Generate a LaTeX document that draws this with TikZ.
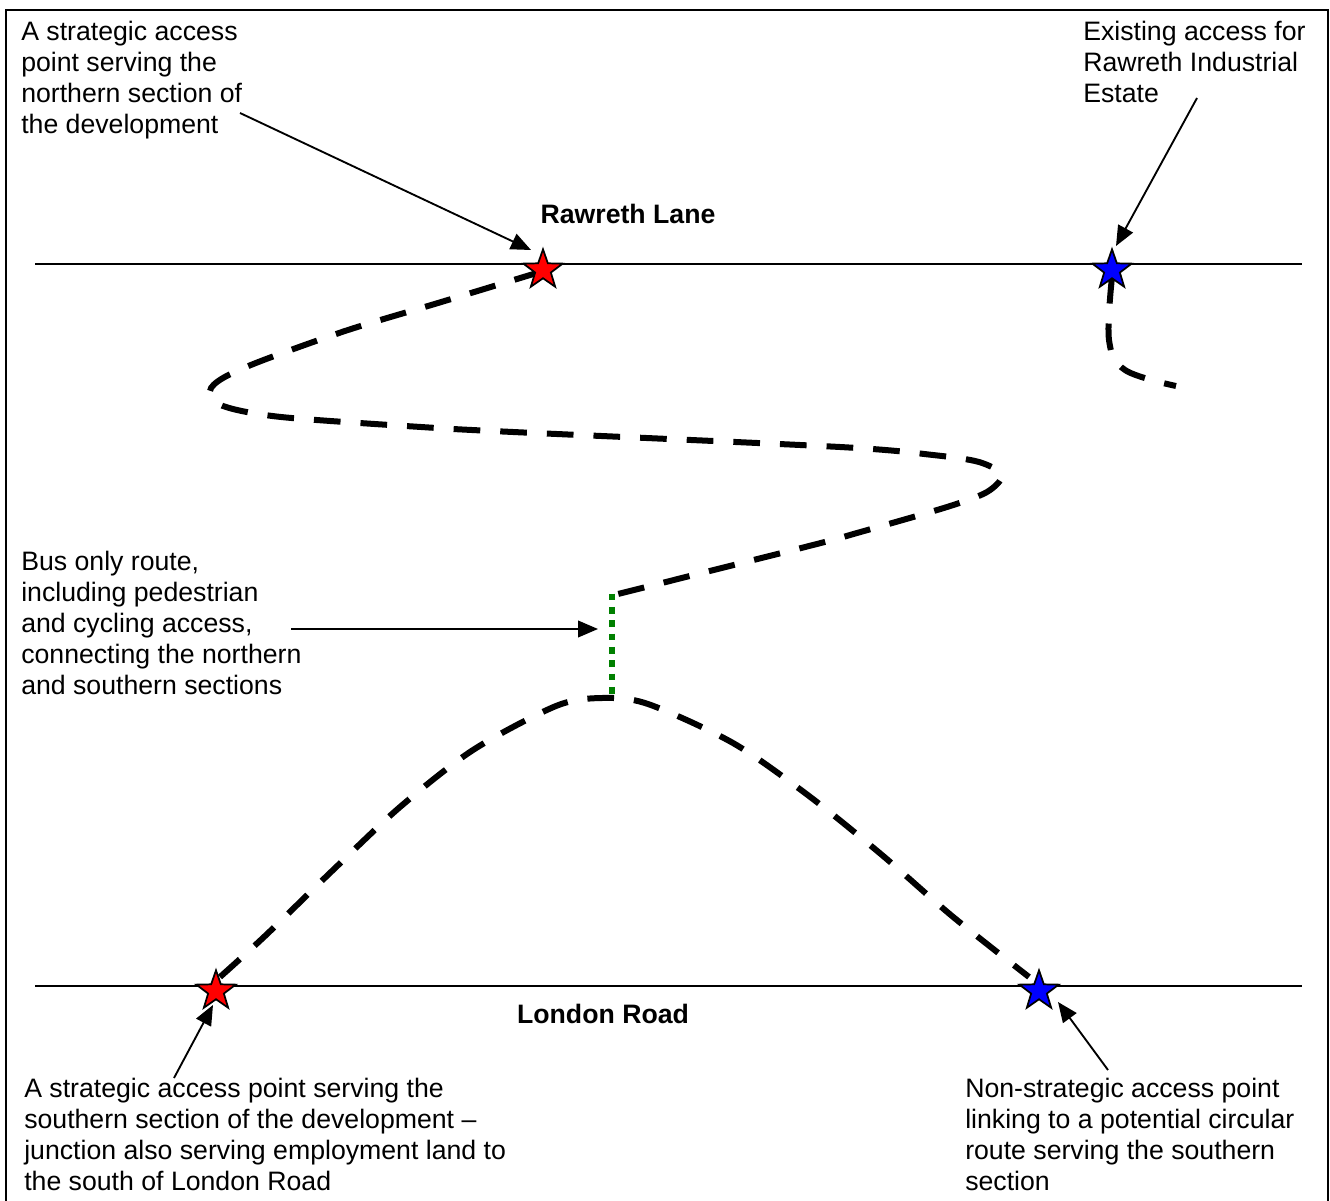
\documentclass[tikz,border=0pt]{standalone}
\usepackage{fontspec}
\setmainfont{Liberation Sans}
\usetikzlibrary{shapes.geometric,arrows.meta}
\definecolor{busgreen}{RGB}{0,128,0}
\tikzset{
  x=0.75pt,y=-0.75pt,
  label/.style={inner sep=0pt,anchor=north west,align=left,font=\fontsize{20}{23.3}\selectfont},
  head/.style={inner sep=0pt,font=\bfseries\fontsize{20}{23.3}\selectfont},
  road/.style={line width=2pt},
  route/.style={line width=4.5pt,dash pattern=on 20pt off 15pt},
  bus/.style={line width=5pt,busgreen,dash pattern=on 5pt off 5pt},
  pointer/.style={line width=1.4pt,-{Triangle[length=15pt,width=12.5pt]}},
  mark star/.style={star,star points=5,star point ratio=2.5,minimum size=31pt,inner sep=0pt,draw=black,line width=1.3pt,fill=#1},
}
\begin{document}
\begin{tikzpicture}
\useasboundingbox (0,0) rectangle (1330,1201);
\coordinate (boxBL) at (6,1202); \coordinate (boxTL) at (6,10);
\coordinate (boxTR) at (1328,10); \coordinate (boxBR) at (1328,1202);
\draw[line width=1.7pt] (boxBL) -- (boxTL) -- (boxTR) -- (boxBR);
\coordinate (rawW) at (35,264); \coordinate (rawE) at (1302,264);
\coordinate (lonW) at (35,986); \coordinate (lonE) at (1302,986);
\draw[road] (rawW) -- (rawE);
\draw[road] (lonW) -- (lonE);
\node[head] (rawreth) at (628,214) {Rawreth Lane};
\node[head] (london) at (603,1014) {London Road};
\coordinate (busN) at (612,593.5);
\coordinate (busS) at (612,697);
\draw[route] plot[smooth,tension=0.5] coordinates {(540,272) (438,303) (348,330) (261,361) (223,378) (210,391) (223,406) (281,417) (421,427) (513,432) (840,447) (933,455) (979,462) (1002,475) (987,492) (947,507) (857,533) (813,545) (614,595)};
\draw[route] plot[smooth,tension=0.5] coordinates {(220,977) (265,936) (332,871) (400,807) (473,750) (556,706) (602,698) (648,704) (733,743) (809,796) (882,855) (952,916) (1029,977)};
\draw[route] plot[smooth,tension=0.6] coordinates {(1112,277) (1109,340) (1125,370) (1176,386)};
\draw[bus] (busN) -- (busS);
\node[mark star=red] (sNW) at (543,270) {};
\node[mark star=blue] (sNE) at (1112,270) {};
\node[mark star=red] (sSW) at (216,991) {};
\node[mark star=blue] (sSE) at (1039,991) {};
\node[label] (t1) at (21,21) {A strategic access\\point serving the\\northern section of\\the development};
\node[label] (t2) at (1083,21) {Existing access for\\Rawreth Industrial\\Estate};
\node[label] (t3) at (21,551) {Bus only route,\\including pedestrian\\and cycling access,\\connecting the northern\\and southern sections};
\node[label] (t4) at (24,1078) {A strategic access point serving the\\southern section of the development –\\junction also serving employment land to\\the south of London Road};
\node[label] (t5) at (965,1078) {Non-strategic access point\\linking to a potential circular\\route serving the southern\\section};
\coordinate (a1) at (240,113); \coordinate (a1e) at (531,250);
\coordinate (a2) at (1197,98); \coordinate (a2e) at (1116,246);
\coordinate (a3) at (291,629); \coordinate (a3e) at (598,629);
\coordinate (a4) at (174,1078); \coordinate (a4e) at (213,1005);
\coordinate (a5) at (1108,1070); \coordinate (a5e) at (1058,1002);
\draw[pointer] (a1) -- (a1e);
\draw[pointer] (a2) -- (a2e);
\draw[pointer] (a3) -- (a3e);
\draw[pointer] (a4) -- (a4e);
\draw[pointer] (a5) -- (a5e);
\end{tikzpicture}
\end{document}
